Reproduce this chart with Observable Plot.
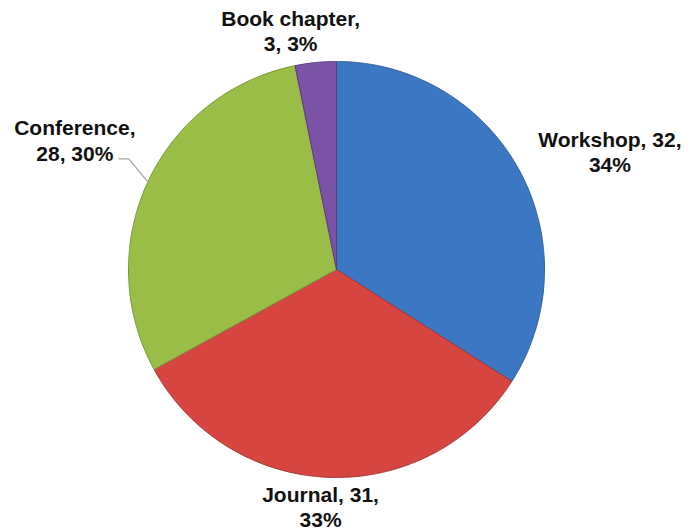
<!DOCTYPE html>
<html><head><meta charset="utf-8">
<script src="https://cdn.jsdelivr.net/npm/d3@7"></script>
<script src="https://cdn.jsdelivr.net/npm/@observablehq/plot@0.6"></script>
<style>body{margin:0;background:#fff;}</style>
</head><body><div id="chart"></div>
<script>
// ---- data ----
const categories = ["Workshop", "Journal", "Conference", "Book chapter"];
const counts = [32, 31, 28, 3];
const labelLines = [
  ["Workshop, 32,", "{p}"],
  ["Journal, 31,", "{p}"],
  ["Conference,", "28, {p}"],
  ["Book chapter,", "3, {p}"]
];

// ---- layout / style ----
const W = 700, H = 532;
const cx = 336, cy = 269, R = 208;           // pie centre and radius (px)
const colors = ["#3c77c4", "#d6453f", "#9abd48", "#7a52a6"];
const strokes = ["#2d5e9e", "#a83532", "#789438", "#5a3c7e"];
const labelOffsetPx = [[91, -18], [-9, 29], [-73, -42], [-25, -32]]; // from slice edge midpoint
const leaderOffsetsPx = [[0, 0], [-19, -23], [-29, -23]];            // conference leader line

const total = d3.sum(counts);
const arcs = d3.pie().sort(null).value(d => d)(counts);

const slices = [];
arcs.forEach((a, i) => {
  const n = Math.max(4, Math.ceil((a.endAngle - a.startAngle) / 0.005));
  slices.push({cat: categories[i], X: 0, Y: 0});
  for (let k = 0; k <= n; k++) {
    const t = a.startAngle + (a.endAngle - a.startAngle) * k / n;
    slices.push({cat: categories[i], X: Math.sin(t), Y: Math.cos(t)});
  }
  slices.push({cat: categories[i], X: 0, Y: 0});
});

const labels = arcs.map((a, i) => {
  const m = (a.startAngle + a.endAngle) / 2;
  const pct = Math.round(counts[i] / total * 100) + "%";
  return {
    cat: categories[i],
    X: Math.sin(m) + labelOffsetPx[i][0] / R,
    Y: Math.cos(m) - labelOffsetPx[i][1] / R,
    text: labelLines[i].map(s => s.replace("{p}", pct)).join("\n")
  };
});

const confArc = arcs[2];
const cm = (confArc.startAngle + confArc.endAngle) / 2;
const leader = leaderOffsetsPx.map(([dx, dy]) => ({X: Math.sin(cm) + dx / R, Y: Math.cos(cm) - dy / R}));

const chart = Plot.plot({
  width: W, height: H,
  margin: 0,
  x: {domain: [-cx / R, (W - cx) / R], range: [0, W], axis: null},
  y: {domain: [-(H - cy) / R, cy / R], range: [H, 0], axis: null},
  color: {domain: categories, range: colors},
  style: {background: "white"},
  marks: [
    Plot.line(slices, {x: "X", y: "Y", z: "cat", fill: "cat",
      stroke: d => strokes[categories.indexOf(d.cat)], strokeWidth: 1, strokeLinejoin: "round"}),
    Plot.line(leader, {x: "X", y: "Y", stroke: "#a6a6a6", strokeWidth: 1.3}),
    Plot.text(labels, {x: "X", y: "Y", text: "text", fontSize: 21, fontWeight: "bold",
      fontFamily: "Liberation Sans, Arial, sans-serif", lineHeight: 1.2, fill: "#111"})
  ]
});
document.getElementById("chart").appendChild(chart);
</script>
</body></html>
